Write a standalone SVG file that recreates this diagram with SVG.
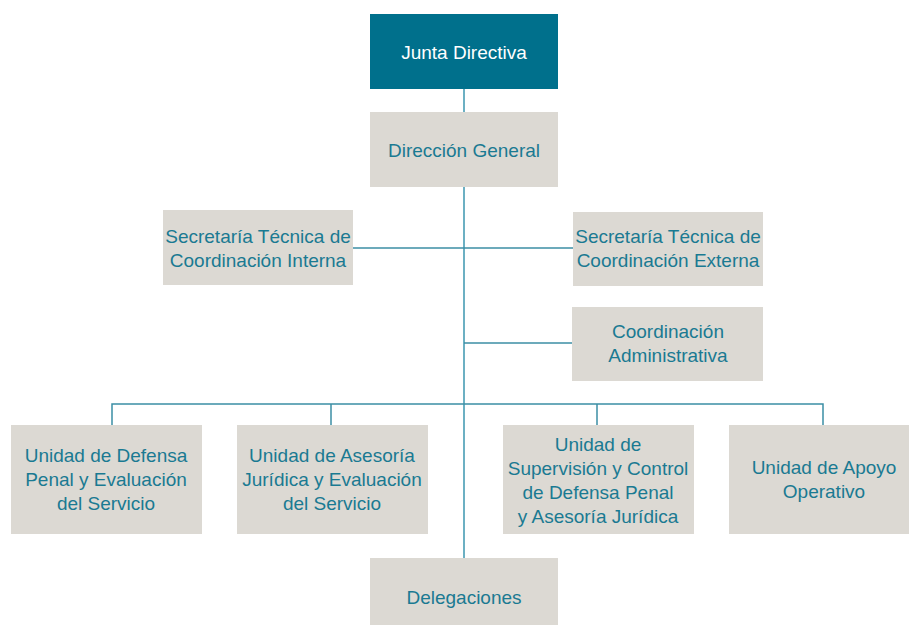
<svg xmlns="http://www.w3.org/2000/svg" width="909" height="625" viewBox="0 0 909 625">
<style>
.box{fill:#dcd9d3}
.top{fill:#00708c}
.t{font-family:"Liberation Sans",Arial,sans-serif;font-size:19px;fill:#1a7a92;text-anchor:middle}
.tw{fill:#ffffff}
.ln{stroke:#3b8ea5;stroke-width:1.5;fill:none}
.main{stroke:#6cb0c3;stroke-width:2;fill:none}
</style>
<g id="connectors">
<line class="main" x1="464" y1="89" x2="464" y2="112"/>
<line class="main" x1="464" y1="187" x2="464" y2="558"/>
<line class="ln" x1="353" y1="248" x2="573" y2="248"/>
<line class="ln" x1="464" y1="343" x2="572" y2="343"/>
<polyline class="ln" points="112,425 112,404 823,404 823,425"/>
<line class="ln" x1="331" y1="404" x2="331" y2="425"/>
<line class="ln" x1="597" y1="404" x2="597" y2="425"/>
</g>
<g id="junta">
<rect class="top" x="370" y="14" width="188" height="75"/>
<text class="t tw" x="464" y="59">Junta Directiva</text>
</g>
<g id="direccion">
<rect class="box" x="370" y="112" width="188" height="75"/>
<text class="t" x="464" y="157">Dirección General</text>
</g>
<g id="sec-interna">
<rect class="box" x="163" y="210" width="190" height="75"/>
<text class="t" x="258" y="243">Secretaría Técnica de</text>
<text class="t" x="258" y="267">Coordinación Interna</text>
</g>
<g id="sec-externa">
<rect class="box" x="573" y="212" width="190" height="74"/>
<text class="t" x="668" y="243">Secretaría Técnica de</text>
<text class="t" x="668" y="267">Coordinación Externa</text>
</g>
<g id="coord-admin">
<rect class="box" x="572" y="307" width="191" height="74"/>
<text class="t" x="668" y="338">Coordinación</text>
<text class="t" x="668" y="362">Administrativa</text>
</g>
<g id="u-defensa">
<rect class="box" x="11" y="425" width="191" height="109"/>
<text class="t" x="106" y="462">Unidad de Defensa</text>
<text class="t" x="106" y="486">Penal y Evaluación</text>
<text class="t" x="106" y="510">del Servicio</text>
</g>
<g id="u-asesoria">
<rect class="box" x="237" y="425" width="191" height="109"/>
<text class="t" x="332" y="462">Unidad de Asesoría</text>
<text class="t" x="332" y="486">Jurídica y Evaluación</text>
<text class="t" x="332" y="510">del Servicio</text>
</g>
<g id="u-supervision">
<rect class="box" x="503" y="425" width="191" height="109"/>
<text class="t" x="598" y="451">Unidad de</text>
<text class="t" x="598" y="475">Supervisión y Control</text>
<text class="t" x="598" y="499">de Defensa Penal</text>
<text class="t" x="598" y="523">y Asesoría Jurídica</text>
</g>
<g id="u-apoyo">
<rect class="box" x="729" y="425" width="180" height="109"/>
<text class="t" x="824" y="474">Unidad de Apoyo</text>
<text class="t" x="824" y="498">Operativo</text>
</g>
<g id="delegaciones">
<rect class="box" x="370" y="558" width="188" height="67"/>
<text class="t" x="464" y="604">Delegaciones</text>
</g>
</svg>
